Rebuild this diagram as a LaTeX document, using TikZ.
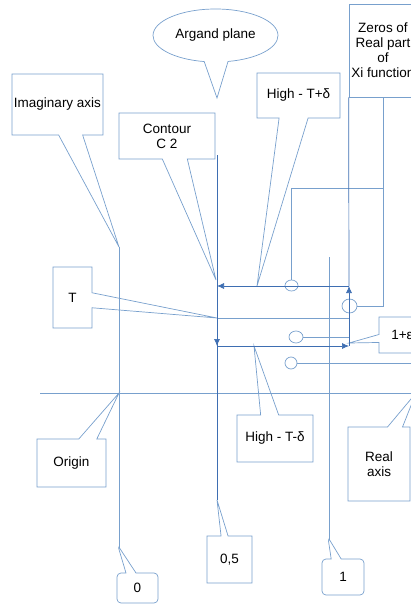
\documentclass[tikz,border=0pt]{standalone}
\usepackage{fontspec}
\setmainfont{Liberation Sans}
\usetikzlibrary{arrows.meta,shapes.callouts,shapes.geometric}

\definecolor{callblue}{RGB}{120,160,205}
\definecolor{pathblue}{RGB}{62,110,178}

\begin{document}
\begin{tikzpicture}[
x=1pt, y=-1pt,
txt/.style = {font=\fontsize{13.5}{15}\selectfont, align=center, inner sep=0pt},
box/.style = {rectangle callout, draw=callblue, line width=0.7pt, txt},
rbox/.style = {box, rounded corners=4pt, callout pointer shorten=-3pt},
bubble/.style = {ellipse callout, draw=callblue, line width=0.7pt, txt},
zero/.style = {ellipse, draw=callblue, line width=0.7pt, inner sep=0pt},
axisline/.style = {callblue, line width=0.7pt},
cline/.style = {pathblue, line width=0.7pt},
carrow/.style = {cline, -{Latex[length=7pt,width=6pt]}}
]
\useasboundingbox (0,0) rectangle (410,605);

% contour C 2
\coordinate (c-tl) at (217,286);
\coordinate (c-tr) at (349,286);
\coordinate (c-bl) at (217,346);
\coordinate (c-br) at (349,346);

% pointer tips
\coordinate (argand-tip) at (217,98);
\coordinate (im-tip)     at (119,247);
\coordinate (c2-tip)     at (216,280);
\coordinate (up-tip)     at (257,286);
\coordinate (t-tip)      at (217,318);
\coordinate (eps-tip)    at (349,343);
\coordinate (origin-tip) at (119,393);
\coordinate (real-tip)   at (416,393);
\coordinate (down-tip)   at (254,346);
\coordinate (zero-tip)   at (119,548);
\coordinate (half-tip)   at (217,500);
\coordinate (one-tip)    at (329,540);

% free ends
\coordinate (half-top)   at (217,155);
\coordinate (one-top)    at (329,257);
\coordinate (t-end)      at (349,318);
\coordinate (real-start) at (40,393);
\coordinate (branch)     at (383,188);

\node (argand) [bubble, minimum width=125pt, minimum height=53pt, callout pointer arc=22, callout absolute pointer={(argand-tip)}] at (215.5,35.5) {Argand plane};
\node (imag) [box, minimum width=91pt, minimum height=61pt, callout pointer width=24pt, callout absolute pointer={(im-tip)}] at (57.5,104.5) {Imaginary axis};
\node (c2) [box, minimum width=96pt, minimum height=46pt, callout pointer width=25pt, callout absolute pointer={(c2-tip)}] at (167,136) {Contour\\C 2};
\node (high-up) [box, minimum width=83pt, minimum height=45pt, callout pointer width=29pt, callout absolute pointer={(up-tip)}] at (298.5,95.5) {High - T+δ};
\node (zeros) [draw=callblue, line width=0.7pt, txt, minimum width=68pt, minimum height=93pt] at (383,50.5) {Zeros of\\Real part\\of\\Xi function};
\node (t) [box, minimum width=39pt, minimum height=61pt, callout pointer width=15pt, callout absolute pointer={(t-tip)}] at (72.5,297.5) {T};
\node (eps) [box, minimum width=46pt, minimum height=36pt, callout pointer width=8pt, callout absolute pointer={(eps-tip)}] at (402,335) {1+ε};
\node (origin) [box, minimum width=69pt, minimum height=48pt, callout pointer width=18pt, callout absolute pointer={(origin-tip)}] at (71.5,463) {Origin};
\node (high-down) [box, minimum width=76pt, minimum height=47pt, callout pointer width=18pt, callout absolute pointer={(down-tip)}] at (275,438.5) {High - T-δ};
\node (real) [box, minimum width=62pt, minimum height=74pt, callout pointer width=15pt, callout absolute pointer={(real-tip)}] at (379,464) {Real\\axis};
\node (n0) [rbox, minimum width=41pt, minimum height=30pt, callout pointer width=10pt, callout absolute pointer={(zero-tip)}] at (137.5,588) {0};
\node (n05) [box, minimum width=45pt, minimum height=47pt, callout pointer width=7pt, callout absolute pointer={(half-tip)}] at (229.5,559.5) {0,5};
\node (n1) [rbox, minimum width=42pt, minimum height=36pt, callout pointer width=10pt, callout absolute pointer={(one-tip)}] at (343,577) {1};

% zeros
\node (z1) [zero, minimum width=13pt, minimum height=11pt] at (291.5,285.5) {};
\node (z2) [zero, minimum width=15pt, minimum height=14pt] at (349.5,306) {};
\node (z3) [zero, minimum width=14pt, minimum height=12pt] at (296,337) {};
\node (z4) [zero, minimum width=12pt, minimum height=12pt] at (291,363) {};

% axes and lines
\draw[axisline] (im-tip) -- (zero-tip);
\draw[axisline] (real-start) -- (real-tip);
\draw[axisline] (one-top) -- (one-tip);
\draw[cline] (half-top) -- (half-tip);
\draw[axisline] (t-tip) -- (t-end);
\draw[axisline] (z3.east) -- (z3.east -| c-br);
\draw[axisline] (z4.east) -- (z4.east -| real-tip);
\draw[axisline] (zeros.south) |- (z2.east);
\draw[axisline] (branch) -| (z1.north);
\draw[cline] (zeros.south west) -- (c-tr);

% contour arrows
\draw[carrow] (c-tr) -- (c-tl);
\draw[carrow] (c-tl) -- (c-bl);
\draw[carrow] (c-bl) -- (c-br);
\draw[carrow] (c-br) -- (c-tr);

\end{tikzpicture}
\end{document}
